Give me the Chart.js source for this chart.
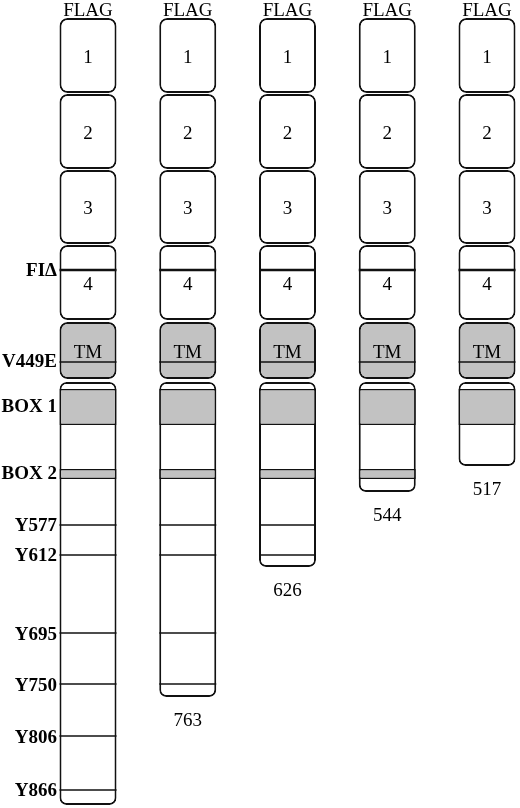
<!DOCTYPE html>
<html>
<head>
<meta charset="utf-8">
<script src="https://cdn.jsdelivr.net/npm/chart.js@4.4.1/dist/chart.umd.min.js"></script>
<style>
  html, body { margin: 0; padding: 0; background: #fff; }
  #wrap { width: 520px; height: 808px; position: relative; }
</style>
</head>
<body>
<div id="wrap"><canvas id="chart"></canvas></div>
<script>
// columns: full-length receptor and its C-terminal truncations
const constructs = ['FL', '763', '626', '544', '517'];
const truncLabels = ['', '763', '626', '544', '517'];

// extracellular domains, in drawing units from the top
const domainNames = ['1', '2', '3', '4'];
const domainStart = [18, 94, 170, 245];
const domainEnd = [93, 169, 244, 320];

const tmSpan = [322, 379];
const cytoStart = 382;
const cytoEnd = [805, 697, 567, 492, 466];

const box1 = [389, 425];
const box2 = [469, 479];
const hasBox2 = [1, 1, 1, 1, 0];

// mutation / tyrosine marks; present in the first n columns
const markNames = ['FIΔ', 'V449E', 'Y577', 'Y612', 'Y695', 'Y750', 'Y806', 'Y866'];
const markPos = [270, 362, 525, 555, 633, 684, 736, 790];
const markCols = [5, 5, 3, 3, 2, 2, 1, 1];

// labels down the left side
const sideLabels = ['FIΔ', 'V449E', 'BOX 1', 'BOX 2', 'Y577', 'Y612', 'Y695', 'Y750', 'Y806', 'Y866'];
const sideLabelPos = [271, 362, 407, 474, 526, 556, 635, 686, 738, 791];

const black = '#111';
const grey = '#c2c2c2';
const serif = '"Liberation Serif", "Times New Roman", serif';

const perCol = fn => constructs.map((_, i) => fn(i));

const datasets = [];
markNames.forEach((name, k) => {
  const t = k === 0 ? 2.6 : 1.6;
  datasets.push({
    label: name, order: 0,
    data: perCol(i => i < markCols[k] ? [markPos[k] - t / 2, markPos[k] + t / 2] : null),
    backgroundColor: black, borderWidth: 0, borderRadius: 0
  });
});
datasets.push({
  label: 'BOX 1', order: 1, data: perCol(() => box1),
  backgroundColor: grey, borderColor: black, borderWidth: 1.6, borderRadius: 0
});
datasets.push({
  label: 'BOX 2', order: 1, data: perCol(i => hasBox2[i] ? box2 : null),
  backgroundColor: grey, borderColor: black, borderWidth: 1.6, borderRadius: 0
});
datasets.push({
  label: 'cytoplasmic', order: 2, data: perCol(i => [cytoStart, cytoEnd[i]]),
  backgroundColor: '#fff', borderColor: black, borderWidth: 2, borderRadius: 7
});
datasets.push({
  label: 'TM', order: 2, data: perCol(() => tmSpan),
  backgroundColor: grey, borderColor: black, borderWidth: 2, borderRadius: 8
});
domainNames.forEach((name, k) => {
  datasets.push({
    label: name, order: 2, data: perCol(() => [domainStart[k], domainEnd[k]]),
    backgroundColor: '#fff', borderColor: black, borderWidth: 2, borderRadius: 8
  });
});
datasets.forEach(d => { d.clip = false; });

// text inside / above / below the columns
const textPlugin = {
  id: 'boxText',
  afterDatasetsDraw(chart) {
    const { ctx, scales: { x, y } } = chart;
    ctx.save();
    ctx.fillStyle = '#000';
    ctx.font = '19px ' + serif;
    ctx.textAlign = 'center';
    ctx.textBaseline = 'alphabetic';
    constructs.forEach((_, i) => {
      const px = x.getPixelForValue(i);
      ctx.fillText('FLAG', px, y.getPixelForValue(16));
      domainNames.forEach((name, k) => {
        let mid = (domainStart[k] + domainEnd[k]) / 2 + 7;
        ctx.fillText(name, px, y.getPixelForValue(mid));
      });
      ctx.fillText('TM', px, y.getPixelForValue((tmSpan[0] + tmSpan[1]) / 2 + 7));
      if (truncLabels[i]) {
        ctx.fillText(truncLabels[i], px, y.getPixelForValue(cytoEnd[i] + 29));
      }
    });
    ctx.restore();
  }
};

new Chart(document.getElementById('chart'), {
  type: 'bar',
  data: { labels: constructs, datasets: datasets },
  options: {
    responsive: true,
    maintainAspectRatio: false,
    animation: false,
    events: [],
    layout: { padding: { left: 0, right: 33, top: 0, bottom: 0 } },
    datasets: {
      bar: { barThickness: 57, grouped: false, borderSkipped: false, inflateAmount: 0, clip: false }
    },
    plugins: { legend: { display: false }, tooltip: { enabled: false } },
    scales: {
      x: {
        type: 'category', display: false, offset: false,
        afterFit: s => { s.paddingLeft = 0; s.paddingRight = 0; }
      },
      y: {
        type: 'linear', reverse: true, min: 0, max: 808, position: 'left',
        grid: { display: false, drawTicks: false },
        border: { display: false },
        ticks: {
          autoSkip: false, padding: 31, color: '#000',
          font: { family: serif, size: 19, weight: 'bold' },
          callback: (v, idx) => sideLabels[idx]
        },
        afterBuildTicks: s => { s.ticks = sideLabelPos.map(v => ({ value: v })); },
        afterFit: s => { s.width = 88; s.paddingTop = 0; s.paddingBottom = 0; }
      }
    }
  },
  plugins: [textPlugin]
});
</script>
</body>
</html>
